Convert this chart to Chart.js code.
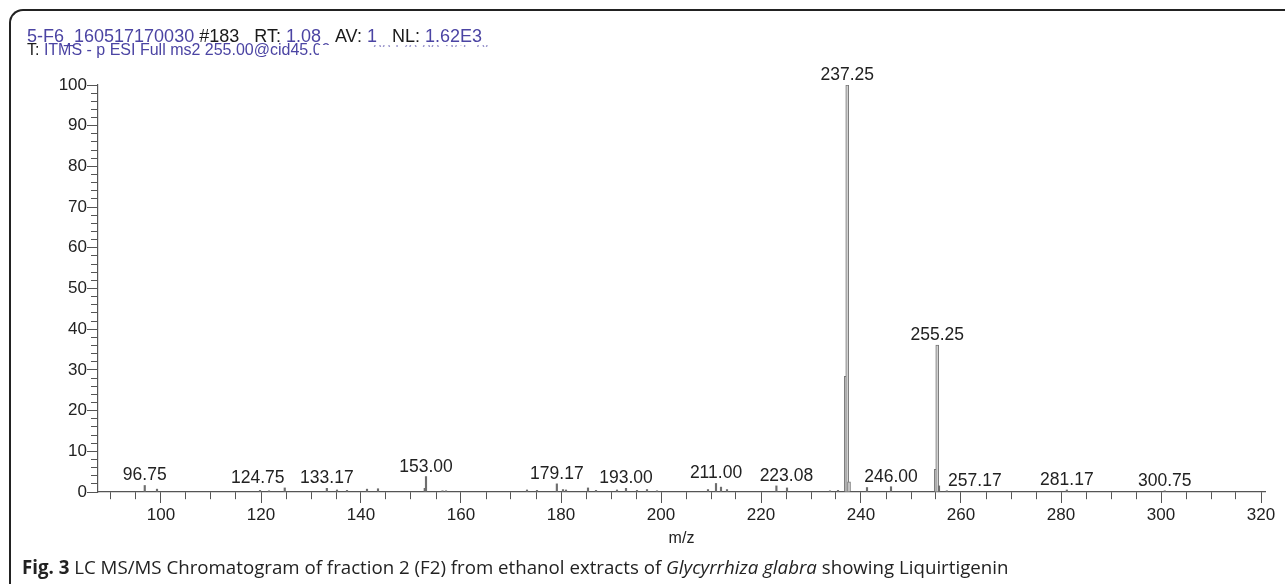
<!DOCTYPE html>
<html>
<head>
<meta charset="utf-8">
<title>LC MS/MS F2</title>
<script src="https://cdn.jsdelivr.net/npm/chart.js@4.4.1/dist/chart.umd.min.js"></script>
<style>
  body { margin: 0; background: #fff; width: 1285px; height: 584px; overflow: hidden; position: relative; font-family: "Liberation Sans", Arial, sans-serif; }
  #frame { position: absolute; left: 9px; top: 9px; width: 1290px; height: 600px; border-top: 2px solid #222; border-left: 2px solid #222; border-top-left-radius: 14px; }
  #wrap { position: absolute; left: 0; top: 0; width: 1285px; height: 584px; }
  .hdr { position: absolute; left: 27px; line-height: 14px; color: #1a1a1a; white-space: nowrap; }
  .b { color: #4b44a3; }
  .gap { display: inline-block; width: 10px; }
  #mask { position: absolute; left: 319px; top: 45px; width: 220px; height: 14px; background: #fff; }
  #faint { position: absolute; left: 373px; top: 45px; width: 116px; height: 2px; overflow: hidden; font-size: 16px; line-height: 17px; color: #9a96cc; white-space: nowrap; }
  #faint span { display: block; margin-top: -4px; }
  #caption { position: absolute; left: 22px; top: 556px; font-family: "Open Sans", sans-serif; font-size: 18.7px; line-height: 22px; color: #222; white-space: nowrap; }
</style>
</head>
<body>
<div id="frame"></div>
<div id="wrap"><canvas id="ms2"></canvas></div>
<div class="hdr" style="top:29px; font-size:18px"><span class="b">5-F6_160517170030</span> #183<span class="gap"></span> RT: <span class="b">1.08</span><span class="gap"></span> AV: <span class="b">1</span><span class="gap"></span> NL: <span class="b">1.62E3</span></div>
<div class="hdr" style="top:43px; font-size:16px">T: <span class="b">ITMS - p ESI Full ms2 255.00@cid45.00</span></div>
<div id="mask"></div>
<div id="faint"><span>00 [70.00-265.00]</span></div>
<div id="caption"><b>Fig. 3</b> LC MS/MS Chromatogram of fraction 2 (F2) from ethanol extracts of <i>Glycyrrhiza glabra</i> showing Liquirtigenin</div>
<script>
// m/z of every stick
const peakMz = [96.75, 99.2, 119.8, 121.6, 124.75, 133.17, 135.2, 137.2, 141.2, 143.4,
    152.75, 153.00, 156.3, 157.0, 173.2, 175.2, 179.17, 180.4, 181.0, 185.4, 187.0,
    191.2, 193.00, 195.2, 197.2, 199.2, 209.4, 211.00, 212.0, 213.2, 223.08, 225.2,
    233.8, 235.4, 241.2, 246.00, 255.6, 257.17, 281.17, 300.75];
// relative abundance (%)
const peakInt = [1.6, 0.7, 0.4, 0.3, 1.0, 0.9, 0.5, 0.4, 0.7, 0.8,
    0.9, 3.8, 0.3, 0.3, 0.5, 0.4, 2.0, 0.6, 0.5, 1.0, 0.4,
    0.5, 0.9, 0.4, 0.6, 0.3, 0.6, 2.1, 1.2, 0.6, 1.5, 1.0,
    0.3, 0.4, 1.1, 1.3, 1.5, 0.3, 0.5, 0.3];

// the two big ions and their shoulders
const mainMz = [236.95, 237.25, 237.6, 254.95, 255.25];
const mainInt = [28.4, 100, 2.5, 5.6, 36.1];

const labelMz = [96.75, 124.75, 133.17, 153.00, 179.17, 193.00, 211.00, 223.08,
    237.25, 246.00, 255.25, 257.17, 281.17, 300.75];

const xTickLabels = [100, 120, 140, 160, 180, 200, 220, 240, 260, 280, 300, 320];
const yTickLabels = [0, 10, 20, 30, 40, 50, 60, 70, 80, 90, 100];

const allMz = peakMz.concat(mainMz);
const allInt = peakInt.concat(mainInt);

const peakLabels = {
    id: "peakLabels",
    afterDatasetsDraw(chart, args, opts) {
        const { ctx, scales: { x, y } } = chart;
        ctx.save();
        ctx.font = opts.font;
        ctx.fillStyle = opts.color;
        ctx.textAlign = "center";
        ctx.textBaseline = "alphabetic";
        labelMz.forEach(mz => {
            const txt = mz.toFixed(2);
            const h = allInt[allMz.indexOf(mz)];
            const px = x.getPixelForValue(mz) + (opts.shift[txt] || 0);
            const py = y.getPixelForValue(h) - opts.gap;
            ctx.fillText(txt, px, py);
        });
        ctx.restore();
    }
};

const axisColor = "#555";

new Chart(document.getElementById("ms2"), {
    type: "bar",
    data: {
        datasets: [
            {
                data: peakMz.map((m, i) => ({ x: m, y: peakInt[i] })),
                backgroundColor: "#6e6e6e",
                barThickness: 1.5,
                grouped: false
            },
            {
                data: mainMz.map((m, i) => ({ x: m, y: mainInt[i] })),
                backgroundColor: "#d0d0d0",
                borderColor: "#777",
                borderWidth: 1,
                barThickness: 3,
                grouped: false
            }
        ]
    },
    options: {
        responsive: true,
        maintainAspectRatio: false,
        animation: false,
        layout: { padding: { left: 38, right: 20, top: 85, bottom: 36 } },
        plugins: {
            legend: { display: false },
            tooltip: { enabled: false },
            peakLabels: {
                font: "17.5px 'Liberation Sans', Arial, sans-serif",
                color: "#222",
                gap: 5,
                shift: { "124.75": -27, "223.08": 10, "257.17": 28 }
            }
        },
        scales: {
            x: {
                type: "linear",
                min: 87.4,
                max: 320.8,
                offset: false,
                border: { color: axisColor, width: 1.2 },
                grid: {
                    offset: false,
                    drawOnChartArea: false,
                    tickLength: 11,
                    tickColor: axisColor,
                    tickBorderDash: ctx => xTickLabels.includes(ctx.tick.value) ? [] : [7, 50]
                },
                ticks: {
                    stepSize: 5,
                    includeBounds: false,
                    autoSkip: false,
                    maxRotation: 0,
                    padding: 2,
                    color: "#222",
                    font: { family: "'Liberation Sans', Arial, sans-serif", size: 17 },
                    callback: v => xTickLabels.includes(v) ? v : ""
                },
                title: {
                    display: true,
                    text: "m/z",
                    color: "#222",
                    padding: 0,
                    font: { family: "'Liberation Sans', Arial, sans-serif", size: 16 }
                },
                afterFit: s => { s.height = 56; }
            },
            y: {
                min: 0,
                max: 100,
                border: { color: axisColor, width: 1.2 },
                grid: {
                    drawOnChartArea: false,
                    tickLength: 11,
                    tickColor: axisColor,
                    tickBorderDash: ctx => yTickLabels.includes(ctx.tick.value) ? [] : [0, 4, 7, 50]
                },
                ticks: {
                    stepSize: 2,
                    autoSkip: false,
                    padding: 0,
                    color: "#222",
                    font: { family: "'Liberation Sans', Arial, sans-serif", size: 17 },
                    callback: v => yTickLabels.includes(v) ? v : ""
                },
                afterFit: s => { s.width = 60; }
            }
        }
    },
    plugins: [peakLabels]
});
</script>
</body>
</html>
